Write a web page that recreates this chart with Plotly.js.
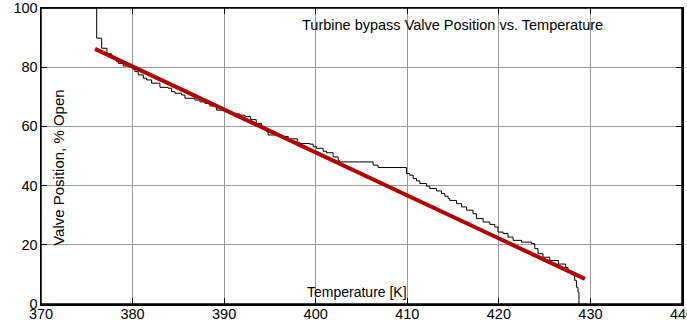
<!DOCTYPE html>
<html>
<head>
<meta charset="utf-8">
<script src="https://cdn.plot.ly/plotly-3.0.1.min.js"></script>
<style>html,body{margin:0;padding:0;background:#fff;}#chart{width:687px;height:322px;}</style>
</head>
<body>
<div id="chart"></div>
<script>
// Measured valve position (step trace)
const tempK = [370, 376.08, 376.63, 377.2, 377.72, 378.26, 378.44, 378.98, 379.71, 380.07, 380.26, 380.62,
  381.17, 381.54, 382.08, 382.99, 383.89, 384.27, 384.63, 385.36, 385.72, 386.81, 387.35, 387.90,
  388.45, 389.18, 390.08, 390.63, 391.72, 392.27, 392.9, 393.5, 394.09, 394.63, 394.81, 395.87,
  397.0, 398.0, 398.27, 399.36, 399.72, 400.09, 400.81, 401.18, 401.90, 402.45, 402.63, 406.27,
  406.81, 409.91, 410.27, 410.64, 411.01, 411.37, 412.10, 412.46, 413.19, 413.74, 414.10, 414.46,
  414.64, 415.37, 415.92, 416.46, 417.18, 417.55, 418.28, 419.01, 419.55, 419.91, 420.46, 421.00,
  421.55, 422.47, 423.56, 423.92, 424.28, 424.82, 425.56, 426.5, 427.3, 427.55, 428.10, 428.28,
  428.47, 428.64, 428.75];
const valvePct = [100, 89.8, 86.4, 84.5, 83.0, 81.9, 81.3, 80.4, 80.0, 79.3, 78.5, 77.4,
  76.3, 75.7, 74.6, 73.2, 72.9, 71.7, 71.2, 70.6, 69.5, 68.9, 68.3, 67.8,
  66.9, 65.5, 65.0, 64.2, 63.8, 63.3, 62.3, 61.0, 59.3, 58.2, 57.1, 56.6,
  55.8, 54.6, 54.2, 54.0, 53.1, 52.6, 51.6, 51.1, 49.7, 48.4, 48.0, 46.9,
  46.1, 44.1, 43.5, 42.4, 41.6, 40.7, 39.8, 39.0, 38.2, 37.3, 36.4, 35.6,
  35.0, 33.9, 32.8, 31.7, 30.5, 28.9, 27.7, 26.9, 26.0, 24.3, 23.8, 22.6,
  21.5, 20.9, 20.4, 18.7, 17.0, 15.8, 14.7, 13.5, 12.3, 10.8, 9.7, 8.0,
  5.7, 4.0, 0];
// Linear fit
const fitTemp = [375.9, 429.4];
const fitPct = [86.2, 8.5];
// Axis ticks
const xTicks = [370, 380, 390, 400, 410, 420, 430, 440];
const yTicks = [0, 20, 40, 60, 80, 100];

const titleText = 'Turbine bypass Valve Position vs. Temperature';
const xLabel = 'Temperature [K]';
const yLabel = 'Valve Position, % Open';

const F = '"Liberation Sans", Arial, sans-serif';

const data = [
  {x: tempK, y: valvePct, type: 'scatter', mode: 'lines',
   line: {color: '#000', width: 1, shape: 'hv'}, hoverinfo: 'skip'},
  {x: fitTemp, y: fitPct, type: 'scatter', mode: 'lines',
   line: {color: '#b00000', width: 4}, hoverinfo: 'skip'}
];

const axisCommon = {
  showline: true, linecolor: '#000', linewidth: 1.5, mirror: 'allticks',
  ticks: 'inside', ticklen: 6, tickcolor: '#000', tickwidth: 1,
  showgrid: true, gridcolor: '#9a9a9a', gridwidth: 1, zeroline: false,
  ticklabeloverflow: 'allow',
  tickfont: {family: F, size: 14.5, color: '#000'}
};

const layout = {
  width: 687, height: 322,
  margin: {l: 41, r: 5, t: 8, b: 18, pad: 0},
  paper_bgcolor: '#fff', plot_bgcolor: '#fff',
  showlegend: false,
  xaxis: Object.assign({}, axisCommon, {range: [370, 440], tickvals: xTicks, ticktext: xTicks.map(String), ticklabelstandoff: -4}),
  yaxis: Object.assign({}, axisCommon, {range: [0, 100], tickvals: yTicks, ticktext: yTicks.map(String), ticklabelstandoff: -1}),
  shapes: [
    {type: 'rect', xref: 'paper', yref: 'paper', x0: 0, x1: 1, y0: 0, y1: 1,
     line: {color: '#000', width: 1.5}, fillcolor: 'rgba(0,0,0,0)', layer: 'above'}
  ],
  annotations: [
    {text: titleText, x: 414.96, y: 94.3, xref: 'x', yref: 'y', showarrow: false,
     xanchor: 'center', yanchor: 'middle', font: {family: F, size: 14.5, color: '#000'}},
    {text: xLabel, x: 404.55, y: 4.0, xref: 'x', yref: 'y', showarrow: false,
     xanchor: 'center', yanchor: 'middle', font: {family: F, size: 14, color: '#000'}},
    {text: yLabel, x: 371.89, y: 46.1, xref: 'x', yref: 'y', showarrow: false, textangle: -90,
     xanchor: 'center', yanchor: 'middle', font: {family: F, size: 15, color: '#000'}}
  ]
};

Plotly.newPlot('chart', data, layout, {staticPlot: true, displayModeBar: false});
</script>
</body>
</html>
